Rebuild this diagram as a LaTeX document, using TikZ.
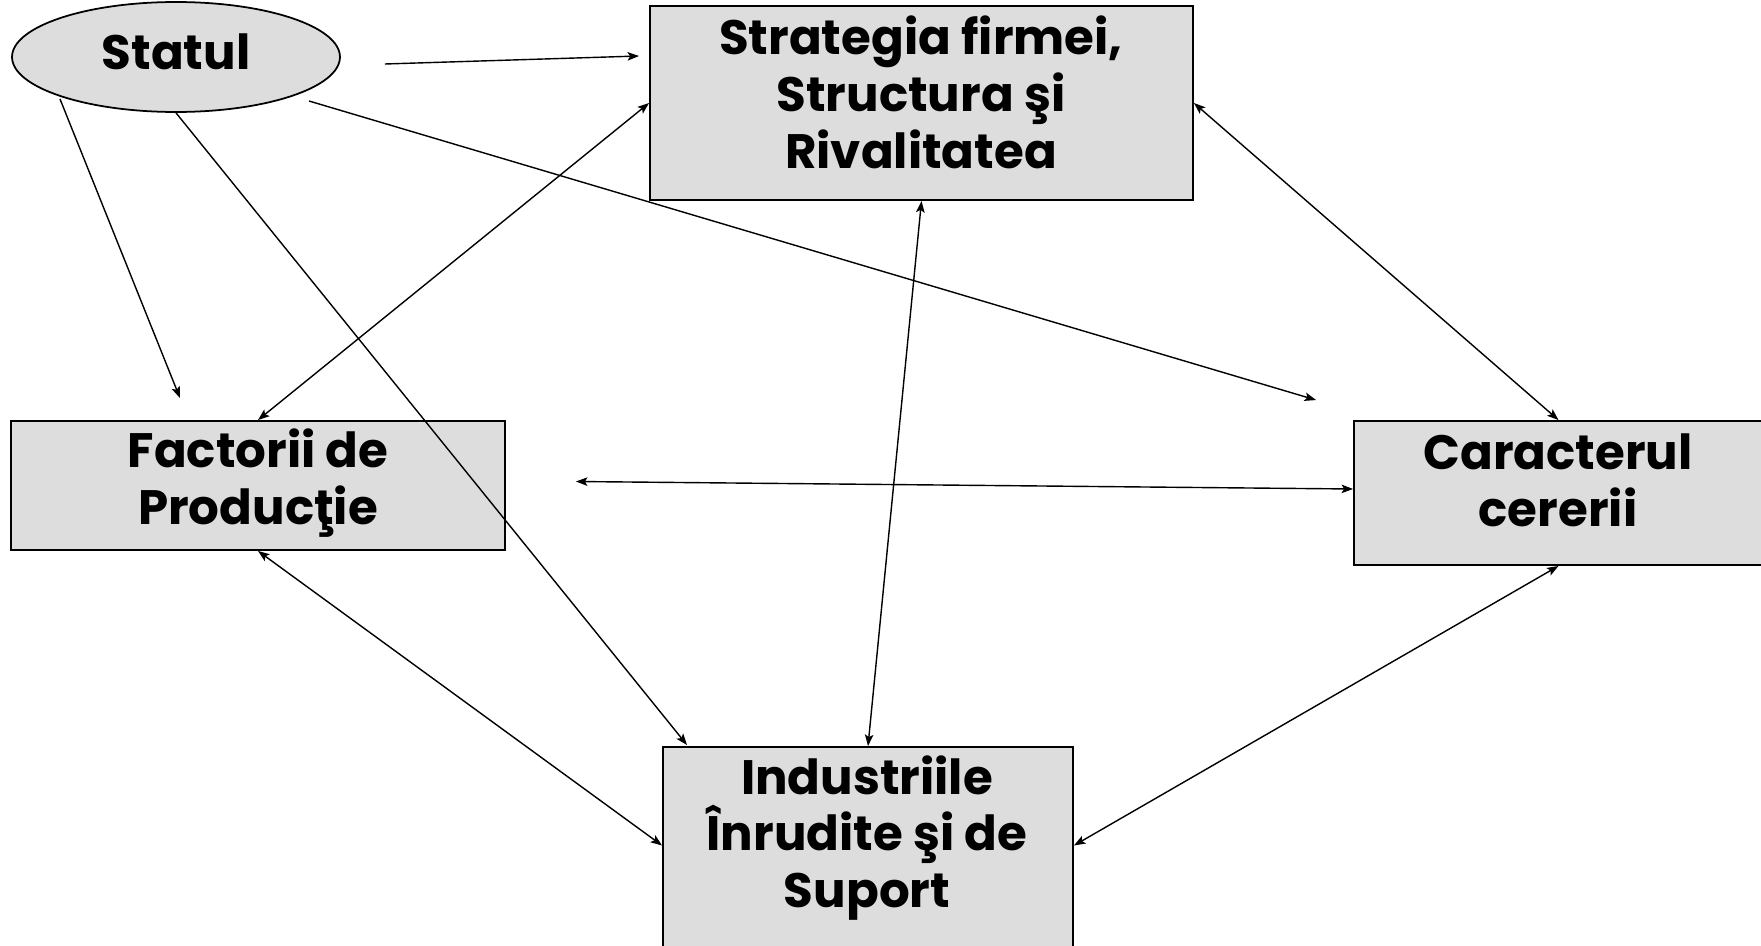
\documentclass[tikz,border=0pt]{standalone}
\usepackage{fontspec}
\setmainfont{Poppins}[BoldFont={* Bold}]
\usetikzlibrary{shapes.geometric,arrows.meta,calc}
\begin{document}
\begin{tikzpicture}[x=0.02cm,y=-0.02cm,
  box/.style={draw=black,line width=1.1pt,fill=boxgrey,inner sep=0pt},
  lbl/.style={align=center,font=\fontsize{27.5}{32.4}\selectfont\bfseries,inner sep=0pt},
  link/.style={line width=0.8pt,-{Stealth[length=2.3mm,width=1.7mm,inset=0.5mm]}},
  twoway/.style={line width=0.8pt,{Stealth[length=2.3mm,width=1.7mm,inset=0.5mm]}-{Stealth[length=2.3mm,width=1.7mm,inset=0.5mm]}}]
\definecolor{boxgrey}{RGB}{221,221,221}
\useasboundingbox (0,0) rectangle (1761,946);

% the state
\node[ellipse,draw=black,line width=1pt,fill=boxgrey,minimum width=6.56cm,minimum height=2.2cm,inner sep=0pt] (statul) at (176,57) {};
\node[lbl] (statul-t) at (176,52) {Statul};

% the four determinants
\node[box,minimum width=10.86cm,minimum height=3.88cm] (strat) at (921.5,103) {};
\node[lbl] (strat-t) at (921,92) {Strategia firmei,\\Structura şi\\Rivalitatea};

\node[box,minimum width=9.88cm,minimum height=2.58cm] (fact) at (258,485.5) {};
\node[lbl] (fact-t) at (258,483) {Factorii de\\Producţie};

\node[box,minimum width=8.18cm,minimum height=2.88cm] (car) at (1558.5,493) {};
\node[lbl] (car-t) at (1558,480) {Caracterul\\cererii};

\node[box,minimum width=8.2cm,minimum height=4.26cm] (ind) at (868,853.5) {};
\node[lbl] (ind-t) at (867,838) {Industriile\\Înrudite şi de\\Suport};

% influence of the state
\draw[link] ($(statul.east)+(44,7)$) -- ($(strat.west)+(-10,-47)$);
\draw[link] ($(statul.center)+(133,44)$) -- ($(car.north west)+(-37,-20)$);
\draw[link] ($(statul.center)+(-116,42)$) -- ($(fact.north)+(-78,-22)$);
\draw[link] (statul.south) -- ($(ind.north west)+(25,-1)$);

% mutual links of the diamond
\draw[twoway] (strat.west) -- (fact.north);
\draw[twoway] (strat.south) -- (ind.north);
\draw[twoway] (strat.east) -- (car.north);
\draw[twoway] ($(fact.east)+(70,-4)$) -- ($(car.west)+(0,-4)$);
\draw[twoway] (fact.south) -- ($(ind.west)+(0,-8)$);
\draw[twoway] (car.south) -- ($(ind.east)+(0,-8)$);
\end{tikzpicture}
\end{document}
